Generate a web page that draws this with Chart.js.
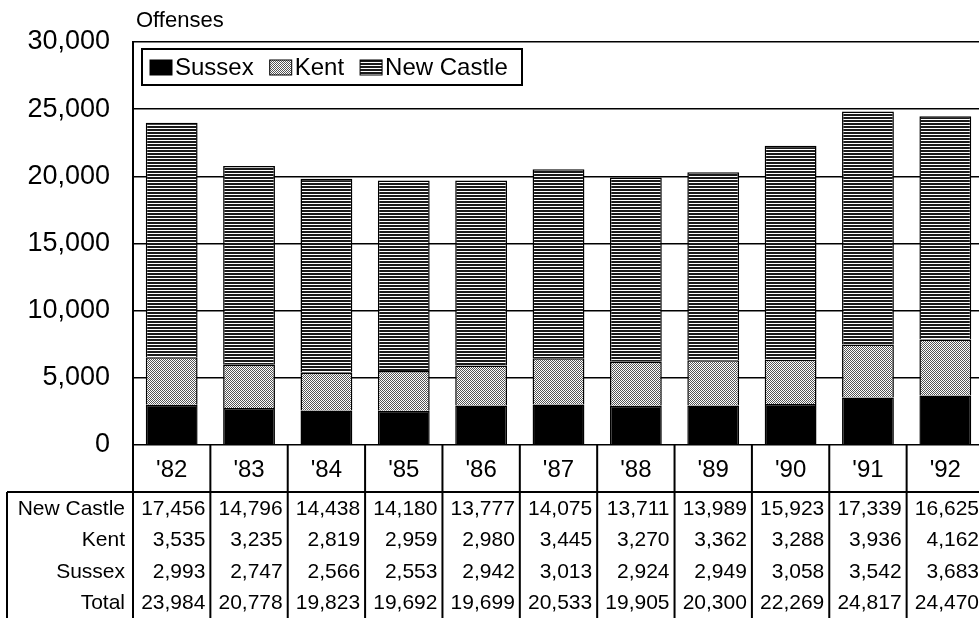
<!DOCTYPE html>
<html>
<head>
<meta charset="utf-8">
<script src="https://cdn.jsdelivr.net/npm/chart.js@4/dist/chart.umd.min.js"></script>
<style>
  html, body { margin: 0; padding: 0; background: #fff; overflow: hidden; }
  #wrap { width: 979px; height: 618px; overflow: hidden; }
  canvas { display: block; }
</style>
</head>
<body>
<div id="wrap"><canvas id="chart" width="985" height="618"></canvas></div>
<script>
const years = ["'82", "'83", "'84", "'85", "'86", "'87", "'88", "'89", "'90", "'91", "'92"]
const newCastle = [17456, 14796, 14438, 14180, 13777, 14075, 13711, 13989, 15923, 17339, 16625]
const kent = [3535, 3235, 2819, 2959, 2980, 3445, 3270, 3362, 3288, 3936, 4162]
const sussex = [2993, 2747, 2566, 2553, 2942, 3013, 2924, 2949, 3058, 3542, 3683]
const totals = [23984, 20778, 19823, 19692, 19699, 20533, 19905, 20300, 22269, 24817, 24470]
const yTicks = [0, 5000, 10000, 15000, 20000, 25000, 30000]

const FONT = "'Liberation Sans', Arial, sans-serif"
const fmt = v => v.toLocaleString('en-US')

function hatch(w, h, paint) {
  const c = document.createElement('canvas')
  c.width = w; c.height = h
  const g = c.getContext('2d')
  paint(g)
  return g.createPattern(c, 'repeat')
}

// horizontal line screen for New Castle, fine dot screen for Kent
const newCastleFill = hatch(4, 3, g => {
  g.fillStyle = '#fff'; g.fillRect(0, 0, 4, 3)
  g.fillStyle = '#1a1a1a'; g.fillRect(0, 0, 4, 2)
})
const kentFill = hatch(2, 2, g => {
  g.fillStyle = '#fff'; g.fillRect(0, 0, 2, 2)
  g.fillStyle = '#555'; g.fillRect(0, 0, 1, 1); g.fillRect(1, 1, 1, 1)
})

const rows = [
  {label: 'New Castle', values: newCastle},
  {label: 'Kent', values: kent},
  {label: 'Sussex', values: sussex},
  {label: 'Total', values: totals}
]

// legend box drawn inside the plot, plus the title and the data table underneath
const extras = {
  id: 'extras',
  afterDraw(chart) {
    const ctx = chart.ctx
    const area = chart.chartArea
    const xs = chart.scales.x
    const colW = (area.right - area.left) / years.length
    ctx.save()

    // title
    ctx.fillStyle = '#000'
    ctx.font = `22px ${FONT}`
    ctx.textAlign = 'left'
    ctx.textBaseline = 'middle'
    ctx.fillText('Offenses', area.left + 3, 21)

    // legend
    const lx = 142, ly = 49, lw = 380, lh = 36
    ctx.fillStyle = '#fff'
    ctx.fillRect(lx, ly, lw, lh)
    ctx.strokeStyle = '#000'
    ctx.lineWidth = 2
    ctx.strokeRect(lx, ly, lw, lh)
    ctx.font = `24px ${FONT}`
    let cx = lx + 8
    chart.data.datasets.forEach(ds => {
      ctx.fillStyle = ds.backgroundColor
      ctx.fillRect(cx, ly + 11, 22, 15)
      ctx.lineWidth = 1
      ctx.strokeRect(cx, ly + 11, 22, 15)
      ctx.fillStyle = '#000'
      ctx.fillText(ds.label, cx + 25, ly + lh / 2 + 1)
      cx += 25 + ctx.measureText(ds.label).width + 16
    })

    // table grid
    const top = area.bottom
    const headBottom = 492
    const bottom = chart.height
    ctx.strokeStyle = '#000'
    ctx.lineWidth = 2
    ctx.beginPath()
    for (let i = 0; i <= years.length; i++) {
      const x = area.left + i * colW
      ctx.moveTo(x, top); ctx.lineTo(x, bottom)
    }
    ctx.moveTo(7, headBottom); ctx.lineTo(area.right, headBottom)
    ctx.moveTo(7, headBottom); ctx.lineTo(7, bottom)
    ctx.stroke()

    // table text
    const rowH = 31.5
    ctx.font = `21px ${FONT}`
    ctx.textAlign = 'right'
    ctx.textBaseline = 'middle'
    ctx.fillStyle = '#000'
    rows.forEach((r, ri) => {
      const y = headBottom + rowH * ri + rowH / 2 + 1
      ctx.fillText(r.label, area.left - 8, y)
      r.values.forEach((v, i) => {
        const right = xs.getPixelForValue(i) + colW / 2 - 5
        ctx.fillText(fmt(v), right, y)
      })
    })
    ctx.restore()
  }
}

new Chart(document.getElementById('chart'), {
  type: 'bar',
  data: {
    labels: years,
    datasets: [
      {label: 'Sussex', data: sussex, backgroundColor: '#000', borderColor: '#000', borderWidth: 1.5},
      {label: 'Kent', data: kent, backgroundColor: kentFill, borderColor: '#000', borderWidth: 1.5},
      {label: 'New Castle', data: newCastle, backgroundColor: newCastleFill, borderColor: '#000', borderWidth: 1.5}
    ]
  },
  options: {
    responsive: false,
    animation: false,
    devicePixelRatio: 1,
    layout: {padding: {top: 42, right: 1, left: 0, bottom: 0}},
    datasets: {bar: {barPercentage: 0.67, categoryPercentage: 1}},
    plugins: {legend: {display: false}, tooltip: {enabled: false}},
    scales: {
      x: {
        stacked: true,
        grid: {display: false, drawTicks: false},
        border: {display: false},
        afterFit(scale) { scale.height = 173 },
        ticks: {color: '#000', padding: 11, font: {family: FONT, size: 24}, maxRotation: 0}
      },
      y: {
        stacked: true,
        min: 0,
        max: 30000,
        afterFit(scale) { scale.width = 133 },
        afterBuildTicks(scale) { scale.ticks = yTicks.map(v => ({value: v})) },
        grid: {color: '#000', lineWidth: 1.5, drawTicks: false},
        border: {display: true, color: '#000', width: 2},
        ticks: {color: '#000', padding: 23, font: {family: FONT, size: 27}, callback: v => fmt(v)}
      }
    }
  },
  plugins: [extras]
})
</script>
</body>
</html>
